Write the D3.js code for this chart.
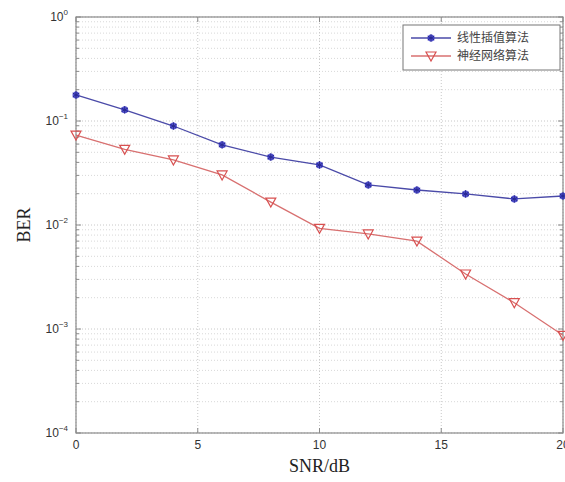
<!DOCTYPE html>
<html>
<head>
<meta charset="utf-8">
<script src="https://cdn.jsdelivr.net/npm/d3@7"></script>
<style>
  body { margin: 0; background: #fff; }
  svg { display: block; }
</style>
</head>
<body>
<div id="chart"></div>
<script>
const snr = [0, 2, 4, 6, 8, 10, 12, 14, 16, 18, 20]
const berLinear = [0.178, 0.128, 0.0895, 0.059, 0.045, 0.0378, 0.0243, 0.0217, 0.0199, 0.0178, 0.019]
const berNeural = [0.0733, 0.0534, 0.0422, 0.0303, 0.0166, 0.0093, 0.0082, 0.0070, 0.00338, 0.00179, 0.00087]
const seriesNames = ['线性插值算法', '神经网络算法']
const xTicks = [0, 5, 10, 15, 20]
const yExponents = [0, -1, -2, -3, -4]

const width = 565, height = 482
const margin = { top: 17, right: 2, bottom: 49, left: 76 }
const innerWidth = width - margin.left - margin.right
const innerHeight = height - margin.top - margin.bottom

const svg = d3.select('#chart')
  .append('svg')
  .attr('width', width)
  .attr('height', height)
  .style('font-family', 'Arial, "Liberation Sans", sans-serif')

const g = svg.append('g')
  .attr('transform', `translate(${margin.left},${margin.top})`)

const x = d3.scaleLinear().domain([0, 20]).range([0, innerWidth])
const y = d3.scaleLog().domain([1e-4, 1]).range([innerHeight, 0])

// minor log ticks
const minorVals = []
for (let e = -4; e < 0; e++) {
  for (let m = 2; m <= 9; m++) minorVals.push(m * Math.pow(10, e))
}

// grid
const grid = g.append('g').attr('class', 'grid')
grid.selectAll('line.minor')
  .data(minorVals)
  .join('line')
  .attr('x1', 0).attr('x2', innerWidth)
  .attr('y1', d => y(d)).attr('y2', d => y(d))
  .attr('stroke', '#d8d8d8')
  .attr('stroke-dasharray', '1,2')
grid.selectAll('line.major')
  .data(yExponents.map(e => Math.pow(10, e)))
  .join('line')
  .attr('x1', 0).attr('x2', innerWidth)
  .attr('y1', d => y(d)).attr('y2', d => y(d))
  .attr('stroke', '#c8c8c8')
  .attr('stroke-dasharray', '1,2')
grid.selectAll('line.vx')
  .data(xTicks)
  .join('line')
  .attr('x1', d => x(d)).attr('x2', d => x(d))
  .attr('y1', 0).attr('y2', innerHeight)
  .attr('stroke', '#c8c8c8')
  .attr('stroke-dasharray', '1,2')

// frame
g.append('rect')
  .attr('width', innerWidth)
  .attr('height', innerHeight)
  .attr('fill', 'none')
  .attr('stroke', '#8a8a8a')
  .attr('stroke-width', 1.2)

// ticks (inward)
const ticks = g.append('g').attr('stroke', '#8a8a8a')
xTicks.forEach(t => {
  ticks.append('line').attr('x1', x(t)).attr('x2', x(t)).attr('y1', innerHeight).attr('y2', innerHeight - 5)
  ticks.append('line').attr('x1', x(t)).attr('x2', x(t)).attr('y1', 0).attr('y2', 5)
})
yExponents.forEach(e => {
  const v = Math.pow(10, e)
  ticks.append('line').attr('x1', 0).attr('x2', 5).attr('y1', y(v)).attr('y2', y(v))
  ticks.append('line').attr('x1', innerWidth).attr('x2', innerWidth - 5).attr('y1', y(v)).attr('y2', y(v))
})
minorVals.forEach(v => {
  ticks.append('line').attr('x1', 0).attr('x2', 3).attr('y1', y(v)).attr('y2', y(v))
  ticks.append('line').attr('x1', innerWidth).attr('x2', innerWidth - 3).attr('y1', y(v)).attr('y2', y(v))
})

// x tick labels
g.append('g').selectAll('text')
  .data(xTicks)
  .join('text')
  .attr('x', d => x(d))
  .attr('y', innerHeight + 16)
  .attr('text-anchor', 'middle')
  .attr('font-size', '12px')
  .attr('fill', '#333')
  .text(d => d)

// y tick labels 10^e
const yl = g.append('g').selectAll('text')
  .data(yExponents)
  .join('text')
  .attr('x', -8)
  .attr('y', d => y(Math.pow(10, d)) + 4)
  .attr('text-anchor', 'end')
  .attr('font-size', '12px')
  .attr('fill', '#333')
yl.append('tspan').text('10')
yl.append('tspan')
  .attr('dy', -6)
  .attr('font-size', '8px')
  .text(d => d === 0 ? '0' : '\u2212' + Math.abs(d))

// axis titles
svg.append('text')
  .attr('x', margin.left + innerWidth / 2)
  .attr('y', height - 10)
  .attr('text-anchor', 'middle')
  .attr('font-family', '"Liberation Serif", "Times New Roman", serif')
  .attr('font-size', '18px')
  .attr('fill', '#222')
  .text('SNR/dB')
svg.append('text')
  .attr('transform', `translate(30,${margin.top + innerHeight / 2}) rotate(-90)`)
  .attr('text-anchor', 'middle')
  .attr('font-family', '"Liberation Serif", "Times New Roman", serif')
  .attr('font-size', '18px')
  .attr('fill', '#222')
  .text('BER')

// lines
const line = d3.line().x(d => x(d[0])).y(d => y(d[1]))
const blueData = snr.map((s, i) => [s, berLinear[i]])
const redData = snr.map((s, i) => [s, berNeural[i]])

g.append('path')
  .datum(blueData)
  .attr('d', line)
  .attr('fill', 'none')
  .attr('stroke', '#4a4aa8')
  .attr('stroke-width', 1.3)
g.append('path')
  .datum(redData)
  .attr('d', line)
  .attr('fill', 'none')
  .attr('stroke', '#d87070')
  .attr('stroke-width', 1.3)

function starMarker(sel, cx, cy) {
  sel.append('circle').attr('cx', cx).attr('cy', cy).attr('r', 3.5).attr('fill', '#3535c8').attr('opacity', 0.85)
  sel.append('path')
    .attr('d', d3.symbol(d3.symbolAsterisk || d3.symbolCross, 40)())
    .attr('transform', `translate(${cx},${cy})`)
    .attr('fill', '#2a2a90')
    .attr('stroke', '#2a2a90')
    .attr('stroke-width', 1)
}
function triMarker(sel, cx, cy) {
  sel.append('path')
    .attr('d', `M${cx - 5},${cy - 4} L${cx + 5},${cy - 4} L${cx},${cy + 5} Z`)
    .attr('fill', 'none')
    .attr('stroke', '#d85050')
    .attr('stroke-width', 1.2)
}

const mk = g.append('g')
blueData.forEach(d => starMarker(mk, x(d[0]), y(d[1])))
redData.forEach(d => triMarker(mk, x(d[0]), y(d[1])))

// legend
const lg = svg.append('g').attr('transform', 'translate(403,25)')
lg.append('rect')
  .attr('width', 157).attr('height', 45)
  .attr('fill', '#fff')
  .attr('stroke', '#777')
lg.append('line').attr('x1', 8).attr('x2', 48).attr('y1', 13).attr('y2', 13).attr('stroke', '#4a4aa8').attr('stroke-width', 1.3)
starMarker(lg, 28, 13)
lg.append('line').attr('x1', 8).attr('x2', 48).attr('y1', 31).attr('y2', 31).attr('stroke', '#d87070').attr('stroke-width', 1.3)
triMarker(lg, 28, 31)
lg.selectAll('text.lab')
  .data(seriesNames)
  .join('text')
  .attr('x', 54)
  .attr('y', (d, i) => 17 + i * 18)
  .attr('font-family', '"Noto Sans CJK SC", sans-serif')
  .attr('font-size', '12px')
  .attr('fill', '#444')
  .text(d => d)
</script>
</body>
</html>
